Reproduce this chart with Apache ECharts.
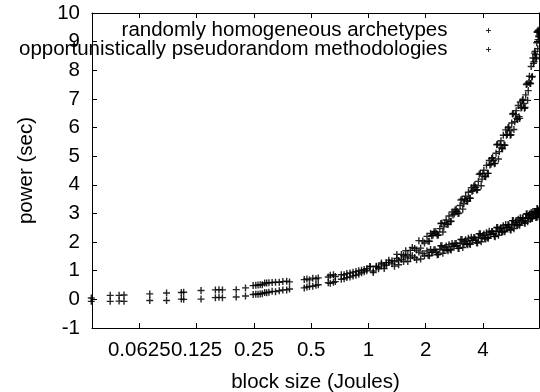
<!DOCTYPE html>
<html>
<head>
<meta charset="utf-8">
<script src="https://cdn.jsdelivr.net/npm/echarts@6/dist/echarts.min.js"></script>
<style>
html,body{margin:0;padding:0;background:#fff;}
#chart{width:540px;height:392px;}
</style>
</head>
<body>
<div id="chart"></div>
<script>
// ---- data ----
const seriesNames = ['randomly homogeneous archetypes', 'opportunistically pseudorandom methodologies'];

// block size (Joules), shared by both series
const blockSize = [
  0.035, 0.044, 0.049, 0.052, 0.071, 0.087, 0.104, 0.107, 0.132, 0.157,
  0.164, 0.171, 0.202, 0.226, 0.248, 0.256, 0.263, 0.270, 0.277, 0.285,
  0.292, 0.300, 0.312, 0.325, 0.340, 0.355, 0.372, 0.385, 0.46, 0.475,
  0.49, 0.51, 0.53, 0.545, 0.615, 0.63, 0.655, 0.67, 0.72, 0.745,
  0.77, 0.80, 0.83, 0.86, 0.89, 0.92, 0.95, 0.98,
  1.02, 1.06, 1.10, 1.13, 1.17, 1.21, 1.24, 1.28, 1.33, 1.37,
  1.41, 1.44, 1.49, 1.53, 1.57, 1.61, 1.66, 1.70, 1.75, 1.79,
  1.84, 1.88, 1.93, 1.97,
  2.03, 2.09, 2.15, 2.21, 2.27, 2.33, 2.40, 2.46, 2.52, 2.59,
  2.65, 2.72, 2.78, 2.85, 2.92, 2.99, 3.06, 3.13, 3.20, 3.28,
  3.35, 3.43, 3.50, 3.58, 3.66, 3.74, 3.82, 3.91, 3.99,
  4.08, 4.17, 4.26, 4.35, 4.44, 4.54, 4.63, 4.72, 4.82, 4.92,
  5.01, 5.11, 5.21, 5.31, 5.41, 5.51, 5.61, 5.71, 5.81, 5.92,
  6.02, 6.12, 6.23, 6.33, 6.44, 6.54, 6.65, 6.75, 6.86, 6.96,
  7.06, 7.16, 7.26, 7.36, 7.45, 7.54, 7.62, 7.69, 7.75, 7.80, 7.84,
  2.06, 2.12, 2.18, 2.24, 2.30, 2.37, 2.43, 2.49, 2.56, 2.62,
  2.69, 2.75, 2.82, 2.89, 2.96, 3.03, 3.10, 3.17, 3.24, 3.32,
  3.39, 3.47, 3.54, 3.62, 3.70, 3.78, 3.87, 3.95, 4.04, 4.13,
  4.22, 4.31, 4.40, 4.49, 4.59, 4.68, 4.77, 4.87, 4.97, 5.06,
  5.16, 5.26, 5.36, 5.46, 5.56, 5.66, 5.76, 5.87, 5.97, 6.07,
  6.18, 6.28, 6.39, 6.49, 6.60, 6.70, 6.81, 6.91, 7.01, 7.11,
  7.21, 7.31, 7.41, 7.50, 7.58, 7.66, 7.72, 7.78, 7.82, 7.86
];

// power (sec) — steep band
const archetypes = [
  -0.07, -0.07, -0.06, -0.07, -0.04, -0.04, 0.01, 0.00, 0.01, 0.06,
  0.07, 0.06, 0.08, 0.12, 0.17, 0.18, 0.18, 0.19, 0.20, 0.24,
  0.23, 0.25, 0.28, 0.27, 0.30, 0.33, 0.33, 0.36, 0.40, 0.43,
  0.45, 0.46, 0.49, 0.51, 0.58, 0.56, 0.60, 0.62, 0.70, 0.72,
  0.76, 0.78, 0.82, 0.84, 0.88, 0.93, 0.96, 1.00,
  1.15, 0.99, 1.16, 1.12, 1.27, 1.17, 1.28, 1.37, 1.35, 1.31,
  1.57, 1.36, 1.57, 1.53, 1.70, 1.56, 1.71, 1.81, 1.78, 1.72,
  2.05, 1.79, 2.04, 1.97,
  2.20, 2.03, 2.22, 2.36, 2.31, 2.25, 2.65, 2.35, 2.67, 2.63,
  2.91, 2.73, 2.95, 3.12, 3.07, 3.01, 3.47, 3.15, 3.49, 3.44,
  3.74, 3.53, 3.77, 3.96, 3.91, 3.83, 4.37, 3.97, 4.39,
  4.30, 4.68, 4.40, 4.69, 4.92, 4.85, 4.75, 5.40, 4.90, 5.40,
  5.29, 5.73, 5.38, 5.73, 5.99, 5.89, 5.75, 6.47, 5.93, 6.45,
  6.32, 6.77, 6.32, 6.68, 6.95, 6.84, 6.70, 7.50, 6.95, 7.58,
  7.54, 8.13, 7.78, 8.24, 8.60, 8.55, 8.45, 9.33, 8.75, 9.40, 9.20,
  2.03, 2.30, 2.24, 2.37, 2.24, 2.47, 2.66, 2.53, 2.77, 2.61,
  2.72, 3.05, 2.98, 3.15, 3.00, 3.28, 3.50, 3.34, 3.60, 3.43,
  3.53, 3.90, 3.80, 3.99, 3.82, 4.12, 4.40, 4.20, 4.51, 4.28,
  4.40, 4.85, 4.72, 4.95, 4.74, 5.10, 5.42, 5.16, 5.54, 5.26,
  5.39, 5.92, 5.76, 6.02, 5.73, 6.16, 6.49, 6.20, 6.59, 6.28,
  6.38, 6.89, 6.71, 6.98, 6.67, 7.14, 7.54, 7.29, 7.79, 7.54,
  7.76, 8.43, 8.30, 8.66, 8.40, 8.96, 9.36, 9.07, 9.33, 9.17
];

// power (sec) — flatter band
const methodologies = [
  0.05, 0.14, 0.14, 0.15, 0.19, 0.22, 0.24, 0.25, 0.31, 0.33,
  0.34, 0.33, 0.34, 0.40, 0.48, 0.49, 0.50, 0.51, 0.51, 0.57,
  0.57, 0.58, 0.59, 0.60, 0.60, 0.62, 0.63, 0.61, 0.69, 0.71,
  0.68, 0.74, 0.72, 0.75, 0.78, 0.84, 0.86, 0.80, 0.86, 0.86,
  0.90, 0.92, 0.95, 0.97, 1.00, 1.02, 1.04, 1.07,
  1.15, 0.94, 1.14, 1.07, 1.23, 1.08, 1.20, 1.29, 1.24, 1.16,
  1.43, 1.21, 1.39, 1.32, 1.48, 1.32, 1.44, 1.52, 1.46, 1.38,
  1.65, 1.41, 1.60, 1.52,
  1.69, 1.52, 1.64, 1.73, 1.65, 1.57, 1.87, 1.61, 1.81, 1.73,
  1.91, 1.72, 1.85, 1.95, 1.87, 1.78, 2.09, 1.81, 2.03, 1.94,
  2.13, 1.92, 2.06, 2.16, 2.07, 1.97, 2.29, 2.01, 2.23,
  2.14, 2.33, 2.13, 2.27, 2.37, 2.29, 2.19, 2.51, 2.24, 2.46,
  2.37, 2.57, 2.36, 2.50, 2.61, 2.52, 2.42, 2.75, 2.47, 2.69,
  2.61, 2.80, 2.59, 2.74, 2.84, 2.75, 2.66, 2.98, 2.71, 2.93,
  2.84, 3.03, 2.82, 2.96, 3.06, 2.97, 2.86, 3.17, 2.88, 3.12, 3.00,
  1.53, 1.74, 1.64, 1.73, 1.56, 1.75, 1.87, 1.72, 1.86, 1.70,
  1.74, 1.95, 1.86, 1.95, 1.78, 1.96, 2.09, 1.93, 2.08, 1.91,
  1.94, 2.17, 2.06, 2.15, 1.98, 2.16, 2.29, 2.13, 2.28, 2.11,
  2.15, 2.38, 2.27, 2.37, 2.20, 2.38, 2.51, 2.36, 2.51, 2.35,
  2.38, 2.61, 2.51, 2.60, 2.43, 2.62, 2.75, 2.59, 2.75, 2.58,
  2.61, 2.85, 2.74, 2.83, 2.67, 2.85, 2.99, 2.83, 2.98, 2.81,
  2.84, 3.07, 2.96, 3.05, 2.87, 3.04, 3.16, 2.99, 3.07, 2.98
];

const xRange = [0.0353, 7.87];
const yRange = [-1, 10];

// ---- chart ----
const FONT = 'Liberation Sans, Arial, sans-serif';
const FS = 20.5;
const PLUS = 'path://M0,2.8H7V4.2H0Z M2.8,0H4.2V7H2.8Z';

function pairs(xs, ys) { return xs.map((x, i) => [x, ys[i]]); }

const chart = echarts.init(document.getElementById('chart'), null, {renderer: 'canvas'});

const axisLineStyle = {show: true, onZero: false, lineStyle: {color: '#000', width: 1}};
const tickStyle = {show: true, inside: true, length: 5, lineStyle: {color: '#000', width: 1}};

chart.setOption({
  animation: false,
  backgroundColor: '#fff',
  textStyle: {fontFamily: FONT},
  grid: {left: 92, right: 1, top: 13, bottom: 64, containLabel: false, outerBoundsMode: 'none'},
  legend: {
    data: seriesNames.map(n => ({name: n, icon: PLUS})),
    orient: 'vertical',
    align: 'right',
    right: 49,
    top: 20,
    padding: 0,
    itemGap: -2,
    itemWidth: 72,
    itemHeight: 5,
    selectedMode: false,
    textStyle: {fontFamily: FONT, fontSize: FS, color: '#000'}
  },
  xAxis: [{
    type: 'log', logBase: 2, min: xRange[0], max: xRange[1],
    position: 'bottom',
    name: 'block size (Joules)', nameLocation: 'middle', nameGap: 44,
    nameTextStyle: {fontFamily: FONT, fontSize: FS, color: '#000'},
    axisLine: axisLineStyle, axisTick: tickStyle,
    axisLabel: {
      showMinLabel: false, showMaxLabel: false, margin: 12,
      fontFamily: FONT, fontSize: FS, color: '#000',
      formatter: function (v) {
        const e = Math.log2(v);
        return Math.abs(e - Math.round(e)) < 1e-6 ? String(+v.toPrecision(6)) : '';
      }
    },
    splitLine: {show: false}, minorTick: {show: false}
  }, {
    type: 'log', logBase: 2, min: xRange[0], max: xRange[1],
    position: 'top',
    axisLine: axisLineStyle, axisTick: tickStyle,
    axisLabel: {show: false}, splitLine: {show: false}
  }],
  yAxis: [{
    type: 'value', min: yRange[0], max: yRange[1], interval: 1,
    position: 'left',
    name: 'power (sec)', nameLocation: 'middle', nameGap: 55, nameRotate: 90,
    nameTextStyle: {fontFamily: FONT, fontSize: FS, color: '#000'},
    axisLine: axisLineStyle, axisTick: tickStyle,
    axisLabel: {margin: 12, fontFamily: FONT, fontSize: FS, color: '#000'},
    splitLine: {show: false}
  }, {
    type: 'value', min: yRange[0], max: yRange[1], interval: 1,
    position: 'right',
    axisLine: axisLineStyle, axisTick: tickStyle,
    axisLabel: {show: false}, splitLine: {show: false}
  }],
  series: [{
    name: seriesNames[0], type: 'scatter',
    xAxisIndex: 0, yAxisIndex: 0,
    data: pairs(blockSize, archetypes),
    symbol: PLUS, symbolSize: 7, clip: false,
    itemStyle: {color: '#000', opacity: 0.85}
  }, {
    name: seriesNames[1], type: 'scatter',
    xAxisIndex: 0, yAxisIndex: 0,
    data: pairs(blockSize, methodologies),
    symbol: PLUS, symbolSize: 7, clip: false,
    itemStyle: {color: '#000', opacity: 0.85}
  }]
});
</script>
</body>
</html>
